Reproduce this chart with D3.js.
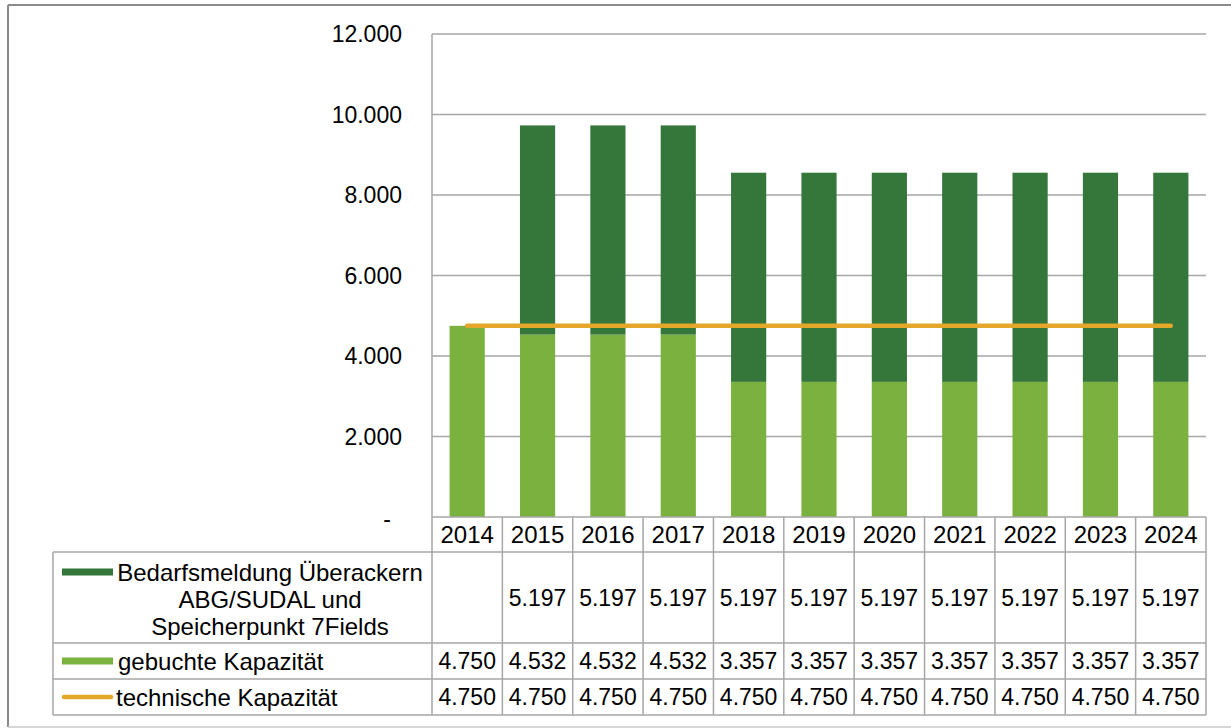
<!DOCTYPE html>
<html>
<head>
<meta charset="utf-8">
<script src="https://cdn.jsdelivr.net/npm/d3@7"></script>
<style>
  body { margin: 0; background: #fff; }
  svg text { font-family: "Liberation Sans", Arial, sans-serif; fill: #000; }
</style>
</head>
<body>
<svg id="chart" width="1231" height="728"></svg>
<script>
// chart data
const years = ["2014", "2015", "2016", "2017", "2018", "2019", "2020", "2021", "2022", "2023", "2024"];
const bedarf = [null, 5197, 5197, 5197, 5197, 5197, 5197, 5197, 5197, 5197, 5197];
const gebucht = [4750, 4532, 4532, 4532, 3357, 3357, 3357, 3357, 3357, 3357, 3357];
const technisch = [4750, 4750, 4750, 4750, 4750, 4750, 4750, 4750, 4750, 4750, 4750];
const yTicks = [0, 2000, 4000, 6000, 8000, 10000, 12000];
const seriesNames = [
  ["Bedarfsmeldung Überackern", "ABG/SUDAL und", "Speicherpunkt 7Fields"],
  ["gebuchte Kapazität"],
  ["technische Kapazität"]
];

const darkGreen = "#35763a";
const lightGreen = "#7bb13f";
const orange = "#e3a82a";
const gridColor = "#a6a6a6";

const de = d3.formatLocale({decimal: ",", thousands: ".", grouping: [3], currency: ["", " €"]});
const fmt = de.format(",d");

const svg = d3.select("#chart");

// plot area
const plotLeft = 432, plotRight = 1206, plotTop = 34, plotBottom = 517;
// table rows (year, bedarf, gebucht, technisch)
const rowY = [517, 552, 643, 679, 715];
const tableLeft = 53;

const x = d3.scaleBand()
  .domain(years)
  .range([plotLeft, plotRight])
  .paddingInner(0.5)
  .paddingOuter(0.25);

const y = d3.scaleLinear()
  .domain([0, 12000])
  .range([plotBottom, plotTop]);

// outer frame
svg.append("line").attr("x1", 8).attr("x2", 1231).attr("y1", 5).attr("y2", 5)
  .attr("stroke", "#8a8a8a").attr("stroke-width", 2);
svg.append("line").attr("x1", 8).attr("x2", 8).attr("y1", 5).attr("y2", 727)
  .attr("stroke", "#8a8a8a").attr("stroke-width", 2);
svg.append("line").attr("x1", 8).attr("x2", 1231).attr("y1", 727).attr("y2", 727)
  .attr("stroke", "#c8c8c8").attr("stroke-width", 1.5);

// gridlines
svg.append("g").selectAll("line")
  .data(yTicks.filter(d => d > 0))
  .enter()
  .append("line")
  .attr("x1", plotLeft).attr("x2", plotRight)
  .attr("y1", d => y(d)).attr("y2", d => y(d))
  .attr("stroke", gridColor).attr("stroke-width", 1.5);

// y axis
const yAxis = svg.append("g")
  .attr("transform", "translate(" + plotLeft + ",0)")
  .call(d3.axisLeft(y).tickValues(yTicks).tickSize(0).tickPadding(30)
    .tickFormat(d => d === 0 ? "-" : fmt(d)));
yAxis.select(".domain").remove();
yAxis.selectAll("text")
  .attr("font-size", 23)
  .attr("font-family", "Liberation Sans, Arial, sans-serif")
  .attr("fill", "#000")
  .attr("dx", d => d === 0 ? -11 : 0)
  .attr("dy", d => d === 0 ? "0.42em" : "0.34em");
svg.append("line").attr("x1", plotLeft).attr("x2", plotLeft).attr("y1", plotTop).attr("y2", plotBottom)
  .attr("stroke", gridColor).attr("stroke-width", 1.5);

// stacked bars
const stackData = years.map((yr, i) => ({year: yr, gebucht: gebucht[i], bedarf: bedarf[i] || 0}));
const stack = d3.stack().keys(["gebucht", "bedarf"])(stackData);
const colors = {gebucht: lightGreen, bedarf: darkGreen};

svg.append("g").selectAll("g")
  .data(stack)
  .enter()
  .append("g")
  .attr("fill", d => colors[d.key])
  .selectAll("rect")
  .data(d => d.filter(p => p[1] > p[0]))
  .enter()
  .append("rect")
  .attr("x", d => x(d.data.year))
  .attr("y", d => y(d[1]))
  .attr("width", x.bandwidth())
  .attr("height", d => y(d[0]) - y(d[1]));

// technical capacity line
const line = d3.line()
  .x((d, i) => x(years[i]) + x.bandwidth() / 2)
  .y(d => y(d));
svg.append("path")
  .datum(technisch)
  .attr("d", line)
  .attr("fill", "none")
  .attr("stroke", orange)
  .attr("stroke-width", 4.5)
  .attr("stroke-linecap", "round");

// data table
const table = svg.append("g");
const step = x.step();
const colEdges = d3.range(years.length + 1).map(i => plotLeft + i * step);

table.selectAll(".vline")
  .data(colEdges)
  .enter()
  .append("line")
  .attr("x1", d => d).attr("x2", d => d)
  .attr("y1", rowY[0]).attr("y2", rowY[4])
  .attr("stroke", gridColor).attr("stroke-width", 1.5);
table.append("line").attr("x1", plotLeft).attr("x2", plotRight).attr("y1", rowY[0]).attr("y2", rowY[0])
  .attr("stroke", gridColor).attr("stroke-width", 1.5);
rowY.slice(1).forEach(ry => {
  table.append("line").attr("x1", tableLeft).attr("x2", plotRight).attr("y1", ry).attr("y2", ry)
    .attr("stroke", gridColor).attr("stroke-width", 1.5);
});
table.append("line").attr("x1", tableLeft).attr("x2", tableLeft).attr("y1", rowY[1]).attr("y2", rowY[4])
  .attr("stroke", gridColor).attr("stroke-width", 1.5);

// year header
table.selectAll(".year")
  .data(years)
  .enter()
  .append("text")
  .attr("x", d => x(d) + x.bandwidth() / 2)
  .attr("y", (rowY[0] + rowY[1]) / 2)
  .attr("dy", "0.36em")
  .attr("text-anchor", "middle")
  .attr("font-size", 24)
  .text(d => d);

// values
[bedarf, gebucht, technisch].forEach((vals, r) => {
  const cy = (rowY[r + 1] + rowY[r + 2]) / 2;
  table.append("g").selectAll("text")
    .data(vals)
    .enter()
    .append("text")
    .attr("x", (d, i) => x(years[i]) + x.bandwidth() / 2)
    .attr("y", cy)
    .attr("dy", "0.36em")
    .attr("text-anchor", "middle")
    .attr("font-size", 23)
    .text(d => d == null ? "" : fmt(d));
});

// legend keys + labels
const keyX = 62, keyW = 51;
const textCenter = 270;
const r1 = rowY[1] + 20;
table.append("rect").attr("x", keyX).attr("y", r1 - 3.5).attr("width", keyW).attr("height", 7).attr("fill", darkGreen);
seriesNames[0].forEach((t, i) => {
  table.append("text")
    .attr("x", textCenter).attr("y", r1 + i * 27).attr("dy", "0.36em")
    .attr("text-anchor", "middle").attr("font-size", 24).text(t);
});
const r2 = (rowY[2] + rowY[3]) / 2;
table.append("rect").attr("x", keyX).attr("y", r2 - 3.5).attr("width", keyW).attr("height", 7).attr("fill", lightGreen);
table.append("text").attr("x", 118).attr("y", r2).attr("dy", "0.36em").attr("font-size", 24).text(seriesNames[1][0]);
const r3 = (rowY[3] + rowY[4]) / 2;
table.append("line").attr("x1", keyX + 2).attr("x2", keyX + keyW - 2).attr("y1", r3).attr("y2", r3)
  .attr("stroke", orange).attr("stroke-width", 4.5).attr("stroke-linecap", "round");
table.append("text").attr("x", 116).attr("y", r3).attr("dy", "0.36em").attr("font-size", 24).text(seriesNames[2][0]);
</script>
</body>
</html>
